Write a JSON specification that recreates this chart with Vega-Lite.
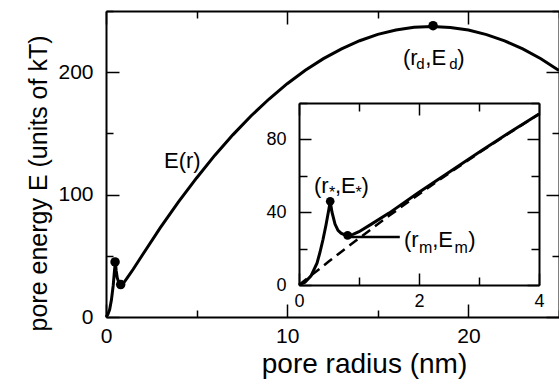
{
  "$schema": "https://vega.github.io/schema/vega-lite/v6.json",
  "width": 453,
  "height": 306,
  "autosize": {"type": "none"},
  "padding": {"left": 106, "top": 11, "right": 0, "bottom": 65},
  "background": "white",
  "config": {
    "view": {"stroke": null},
    "font": "Liberation Sans",
    "axis": {
      "grid": false,
      "domainColor": "black",
      "domainWidth": 2,
      "tickColor": "black",
      "tickWidth": 1.5,
      "labelColor": "black",
      "titleColor": "black",
      "labelFont": "Liberation Sans",
      "titleFont": "Liberation Sans",
      "titleFontWeight": "normal",
      "labelFontSize": 21,
      "titleFontSize": 25,
      "labelFlush": false
    }
  },
  "datasets": {
    "main": [
      {"r": 0, "E": 0}, {"r": 0.1, "E": 2}, {"r": 0.2, "E": 6}, {"r": 0.3, "E": 14},
      {"r": 0.4, "E": 26}, {"r": 0.47, "E": 38}, {"r": 0.52, "E": 45}, {"r": 0.56, "E": 38},
      {"r": 0.62, "E": 32}, {"r": 0.7, "E": 28.5}, {"r": 0.81, "E": 26.5}, {"r": 0.9, "E": 26.8},
      {"r": 1.0, "E": 28.3}, {"r": 1.2, "E": 32.5}, {"r": 1.5, "E": 39}, {"r": 2, "E": 50.5},
      {"r": 3, "E": 73}, {"r": 4, "E": 94}, {"r": 5, "E": 113.6}, {"r": 6, "E": 132},
      {"r": 7, "E": 148.8}, {"r": 8, "E": 164.2}, {"r": 9, "E": 178.1}, {"r": 10, "E": 190.6},
      {"r": 11, "E": 201.6}, {"r": 12, "E": 211.1}, {"r": 13, "E": 219.1}, {"r": 14, "E": 225.7},
      {"r": 15, "E": 230.9}, {"r": 16, "E": 234.5}, {"r": 17, "E": 236.7}, {"r": 18, "E": 237.4},
      {"r": 19, "E": 236.6}, {"r": 20, "E": 234.4}, {"r": 21, "E": 230.7}, {"r": 22, "E": 225.6},
      {"r": 23, "E": 219.0}, {"r": 24, "E": 211.0}, {"r": 25, "E": 201.4}
    ],
    "mainPts": [
      {"r": 0.5, "E": 45}, {"r": 0.81, "E": 26.5}, {"r": 18.05, "E": 238}
    ],
    "mainText": [
      {"r": 3.2, "E": 121.5, "t": "E(r)"},
      {"r": 16.39, "E": 205.9, "t": "(r"},
      {"r": 17.62, "E": 205.9, "t": ",E"},
      {"r": 19.38, "E": 205.9, "t": ")"}
    ],
    "mainSub": [
      {"r": 17.12, "E": 202.6, "t": "d"},
      {"r": 18.95, "E": 202.6, "t": "d"}
    ],
    "inset": [
      {"r": 0, "E": 0}, {"r": 0.1, "E": 1.5}, {"r": 0.2, "E": 5}, {"r": 0.3, "E": 12},
      {"r": 0.35, "E": 18}, {"r": 0.4, "E": 25}, {"r": 0.45, "E": 33}, {"r": 0.5, "E": 42},
      {"r": 0.52, "E": 46}, {"r": 0.55, "E": 40}, {"r": 0.6, "E": 33.5}, {"r": 0.65, "E": 30},
      {"r": 0.7, "E": 28.5}, {"r": 0.75, "E": 27.7}, {"r": 0.81, "E": 27.3}, {"r": 0.9, "E": 27.8},
      {"r": 1.0, "E": 29.3}, {"r": 1.2, "E": 33.3}, {"r": 1.5, "E": 39.5}, {"r": 2, "E": 51},
      {"r": 2.5, "E": 62}, {"r": 3, "E": 73}, {"r": 3.5, "E": 83.6}, {"r": 4, "E": 94}
    ],
    "dashed": [
      {"r": 0, "E": 0}, {"r": 0.5, "E": 13}, {"r": 1, "E": 25.7}, {"r": 1.5, "E": 38},
      {"r": 2, "E": 49.9}, {"r": 2.5, "E": 61.4}, {"r": 3, "E": 72.6}, {"r": 3.5, "E": 83.4},
      {"r": 4, "E": 93.9}
    ],
    "insetPts": [
      {"r": 0.52, "E": 46}, {"r": 0.81, "E": 27.3}
    ],
    "connector": [
      {"r0": 0.85, "r1": 1.68, "E": 26.4}
    ],
    "insetText": [
      {"r": 0.25, "E": 50.5, "t": "(r"},
      {"r": 0.6, "E": 50.5, "t": ",E"},
      {"r": 1.04, "E": 50.5, "t": ")"},
      {"r": 1.75, "E": 20.9, "t": "(r"},
      {"r": 2.22, "E": 20.9, "t": ",E"},
      {"r": 2.82, "E": 20.9, "t": ")"}
    ],
    "insetSub": [
      {"r": 0.5, "E": 47.8, "t": "*"},
      {"r": 0.94, "E": 47.8, "t": "*"},
      {"r": 2.0, "E": 17.6, "t": "m"},
      {"r": 2.59, "E": 17.6, "t": "m"}
    ]
  },
  "resolve": {
    "scale": {"x": "independent", "y": "independent"},
    "axis": {"x": "independent", "y": "independent"}
  },
  "layer": [
    {
      "data": {"name": "main"},
      "mark": {"type": "line", "color": "black", "strokeWidth": 3},
      "encoding": {
        "x": {"field": "r", "type": "quantitative",
          "scale": {"domain": [0, 25], "nice": false},
          "axis": {"orient": "bottom", "values": [0, 5, 10, 15, 20, 25],
            "labelExpr": "datum.value % 10 === 0 ? datum.label : ''",
            "tickSize": {"condition": {"test": "datum.value % 10 === 0", "value": -13}, "value": -7},
            "labelPadding": 21, "title": "pore radius (nm)", "titleFontSize": 28,
            "titleX": 258, "titleY": 55, "titleBaseline": "alphabetic", "titleAnchor": "middle"}},
        "y": {"field": "E", "type": "quantitative",
          "scale": {"domain": [0, 250], "nice": false},
          "axis": {"orient": "left", "values": [0, 50, 100, 150, 200, 250],
            "labelExpr": "datum.value % 100 === 0 ? datum.label : ''",
            "tickSize": {"condition": {"test": "datum.value % 100 === 0", "value": -13}, "value": -7},
            "labelPadding": 26, "title": "pore energy E (units of kT)", "titlePadding": 6, "titleY": 172}}
      }
    },
    {
      "data": {"name": "mainPts"},
      "mark": {"type": "circle", "color": "black", "opacity": 1, "size": 90},
      "encoding": {
        "x": {"field": "r", "type": "quantitative",
          "scale": {"domain": [0, 25], "nice": false},
          "axis": {"orient": "top", "values": [0, 5, 10, 15, 20, 25], "labels": false, "title": null,
            "tickSize": {"condition": {"test": "datum.value % 10 === 0", "value": -13}, "value": -7}}},
        "y": {"field": "E", "type": "quantitative",
          "scale": {"domain": [0, 250], "nice": false},
          "axis": {"orient": "right", "values": [0, 50, 100, 150, 200, 250], "labels": false, "title": null,
            "tickSize": {"condition": {"test": "datum.value % 100 === 0", "value": -13}, "value": -7}}}
      }
    },
    {
      "data": {"name": "mainText"},
      "mark": {"type": "text", "align": "left", "baseline": "alphabetic", "fontSize": 22, "color": "black", "font": "Liberation Sans"},
      "encoding": {
        "x": {"field": "r", "type": "quantitative", "scale": {"domain": [0, 25], "nice": false}, "axis": null},
        "y": {"field": "E", "type": "quantitative", "scale": {"domain": [0, 250], "nice": false}, "axis": null},
        "text": {"field": "t"}
      }
    },
    {
      "data": {"name": "mainSub"},
      "mark": {"type": "text", "align": "left", "baseline": "alphabetic", "fontSize": 15, "color": "black", "font": "Liberation Sans"},
      "encoding": {
        "x": {"field": "r", "type": "quantitative", "scale": {"domain": [0, 25], "nice": false}, "axis": null},
        "y": {"field": "E", "type": "quantitative", "scale": {"domain": [0, 250], "nice": false}, "axis": null},
        "text": {"field": "t"}
      }
    },
    {
      "data": {"name": "dashed"},
      "mark": {"type": "line", "color": "black", "strokeWidth": 2.5, "strokeDash": [10, 6]},
      "encoding": {
        "x": {"field": "r", "type": "quantitative",
          "scale": {"domain": [0, 4], "nice": false, "range": [193, 433]},
          "axis": {"orient": "bottom", "offset": -32, "values": [0, 1, 2, 3, 4], "title": null,
            "labelExpr": "datum.value % 2 === 0 ? datum.label : ''",
            "tickSize": {"condition": {"test": "datum.value % 2 === 0", "value": -12}, "value": -8},
            "labelPadding": 19, "labelFontSize": 18}},
        "y": {"field": "E", "type": "quantitative",
          "scale": {"domain": [0, 100], "nice": false, "range": [274, 92]},
          "axis": {"orient": "left", "offset": -193, "values": [0, 20, 40, 60, 80, 100], "title": null,
            "labelExpr": "datum.value % 40 === 0 ? datum.label : ''",
            "tickSize": {"condition": {"test": "datum.value % 40 === 0", "value": -12}, "value": -8},
            "labelPadding": 25, "labelFontSize": 18}}
      }
    },
    {
      "data": {"name": "inset"},
      "mark": {"type": "line", "color": "black", "strokeWidth": 3},
      "encoding": {
        "x": {"field": "r", "type": "quantitative",
          "scale": {"domain": [0, 4], "nice": false, "range": [193, 433]},
          "axis": {"orient": "top", "offset": -92, "values": [0, 1, 2, 3, 4], "title": null, "labels": false,
            "tickSize": {"condition": {"test": "datum.value % 2 === 0", "value": -12}, "value": -8}}},
        "y": {"field": "E", "type": "quantitative",
          "scale": {"domain": [0, 100], "nice": false, "range": [274, 92]},
          "axis": {"orient": "right", "offset": -20, "values": [0, 20, 40, 60, 80, 100], "title": null, "labels": false,
            "tickSize": {"condition": {"test": "datum.value % 40 === 0", "value": -12}, "value": -8}}}
      }
    },
    {
      "data": {"name": "connector"},
      "mark": {"type": "rule", "color": "black", "strokeWidth": 2.5},
      "encoding": {
        "x": {"field": "r0", "type": "quantitative", "scale": {"domain": [0, 4], "nice": false, "range": [193, 433]}, "axis": null},
        "x2": {"field": "r1"},
        "y": {"field": "E", "type": "quantitative", "scale": {"domain": [0, 100], "nice": false, "range": [274, 92]}, "axis": null}
      }
    },
    {
      "data": {"name": "insetPts"},
      "mark": {"type": "circle", "color": "black", "opacity": 1, "size": 75},
      "encoding": {
        "x": {"field": "r", "type": "quantitative", "scale": {"domain": [0, 4], "nice": false, "range": [193, 433]}, "axis": null},
        "y": {"field": "E", "type": "quantitative", "scale": {"domain": [0, 100], "nice": false, "range": [274, 92]}, "axis": null}
      }
    },
    {
      "data": {"name": "insetText"},
      "mark": {"type": "text", "align": "left", "baseline": "alphabetic", "fontSize": 22, "color": "black", "font": "Liberation Sans"},
      "encoding": {
        "x": {"field": "r", "type": "quantitative", "scale": {"domain": [0, 4], "nice": false, "range": [193, 433]}, "axis": null},
        "y": {"field": "E", "type": "quantitative", "scale": {"domain": [0, 100], "nice": false, "range": [274, 92]}, "axis": null},
        "text": {"field": "t"}
      }
    },
    {
      "data": {"name": "insetSub"},
      "mark": {"type": "text", "align": "left", "baseline": "alphabetic", "fontSize": 16, "color": "black", "font": "Liberation Sans"},
      "encoding": {
        "x": {"field": "r", "type": "quantitative", "scale": {"domain": [0, 4], "nice": false, "range": [193, 433]}, "axis": null},
        "y": {"field": "E", "type": "quantitative", "scale": {"domain": [0, 100], "nice": false, "range": [274, 92]}, "axis": null},
        "text": {"field": "t"}
      }
    }
  ]
}
